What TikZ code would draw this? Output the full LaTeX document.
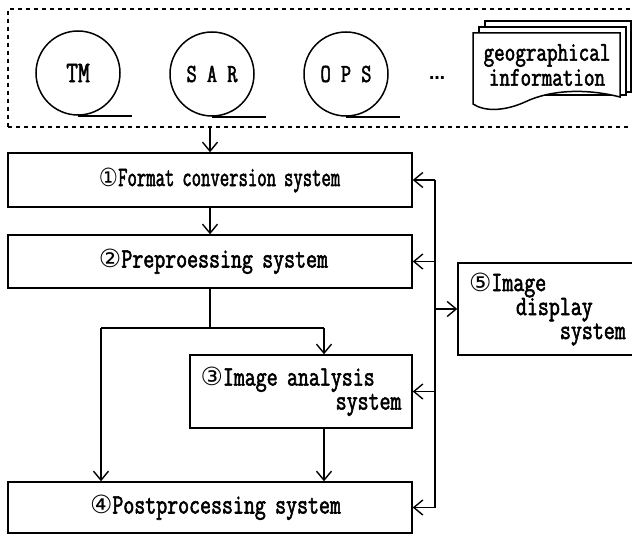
\documentclass[tikz,border=0pt]{standalone}
\usepackage{fontspec}
\setmonofont[FakeBold=2, FakeStretch=0.76]{Latin Modern Mono}
\newfontfamily\circfont{DejaVu Sans}
\usetikzlibrary{arrows.meta}
\newcommand\cnum[1]{{\circfont\fontsize{25}{20}\selectfont #1}}

\tikzset{
  txt/.style={font=\ttfamily\fontsize{28}{24}\selectfont},
  sysbox/.style={draw, line width=1.5pt, rectangle, inner sep=0pt, txt, align=left},
  reel/.style={draw, circle, line width=1.5pt, minimum size=84pt, inner sep=0pt,
    font=\ttfamily\fontsize{26}{26}\selectfont},
  frame/.style={draw, line width=1.5pt, dash pattern=on 4pt off 4pt, inner sep=0pt},
  docline/.style={line width=1.5pt, fill=white},
  conn/.style={line width=1.4pt},
  arr/.style={conn, -{Straight Barb[length=9pt,width=15pt]}},
}

\begin{document}
\begin{tikzpicture}[x=1pt, y=-1pt]
  \useasboundingbox (0,0) rectangle (632,535);
  \clip (0,0) rectangle (632,535);

  % input data sources
  \node[frame, minimum width=632pt, minimum height=118pt] (src) at (324,68) {};

  \node[reel, font=\ttfamily\fontsize{30}{30}\selectfont] (tm) at (78,73) {TM};
  \node[reel] (sar) at (212,74) {S A R};
  \node[reel] (ops) at (346,74) {O P S};
  \foreach \r in {tm,sar,ops}
    \draw[line width=1.5pt] (\r.south) -- ++(54,0);
  \node[font=\circfont\bfseries\fontsize{16}{16}\selectfont, anchor=base] (more) at (437,80) {…};

  % stacked map sheets
  \draw[docline] (485,21) rectangle (631,92);
  \draw[docline] (479,27) rectangle (626,95);
  \draw[docline] (473,33) -- (620,33) -- (620,97)
    .. controls (585,88) and (550,90) .. (525,102)
    .. controls (505,111) and (485,112) .. (473,104) -- cycle;
  \node[align=center, font=\ttfamily\fontsize{27}{25}\selectfont] (geo) at (547,65)
    {geographical\\information};

  % processing subsystems
  \node[sysbox, minimum width=404pt, minimum height=54pt, text width=384pt] (b1) at (210,180)
    {\hspace*{81pt}\scalebox{0.855}[1]{\cnum{①}Format conversion system}};
  \node[sysbox, minimum width=404pt, minimum height=53pt, text width=384pt] (b2) at (210,261.5)
    {\hspace*{81pt}\cnum{②}Preproessing system};
  \node[sysbox, minimum width=222pt, minimum height=73pt, text width=201pt] (b3) at (301,391.5)
    {\cnum{③}Image analysis\\\hfill system};
  \node[sysbox, minimum width=404pt, minimum height=51pt, text width=384pt] (b4) at (210,507.5)
    {\hspace*{72pt}\cnum{④}Postprocessing system};
  \node[sysbox, minimum width=182pt, minimum height=92pt, text width=160pt] (b5) at (549,309)
    {\cnum{⑤}Image\\\hspace*{47pt}display\\\hspace*{91pt}system};

  % main flow
  \draw[arr] (src.south -| b1.north) -- (b1.north);
  \draw[arr] (b1.south) -- (b2.north);
  \coordinate (split) at (210,328);
  \coordinate (lx) at (101,0);
  \coordinate (rx) at (324,0);
  \draw[conn] (b2.south) -- (split);
  \draw[conn] (split -| lx) -- (split -| rx);
  \draw[arr] (split -| rx) -- (b3.north -| rx);
  \draw[arr] (split -| lx) -- (b4.north -| lx);
  \draw[arr] (b3.south -| rx) -- (b4.north -| rx);

  % display bus
  \coordinate (bus) at (435,0);
  \draw[conn] (b1.east -| bus) -- (b4.east -| bus);
  \foreach \b in {b1,b2,b3,b4}
    \draw[arr] (\b.east -| bus) -- (\b.east);
  \draw[arr] (b5.west -| bus) -- (b5.west);
\end{tikzpicture}
\end{document}
